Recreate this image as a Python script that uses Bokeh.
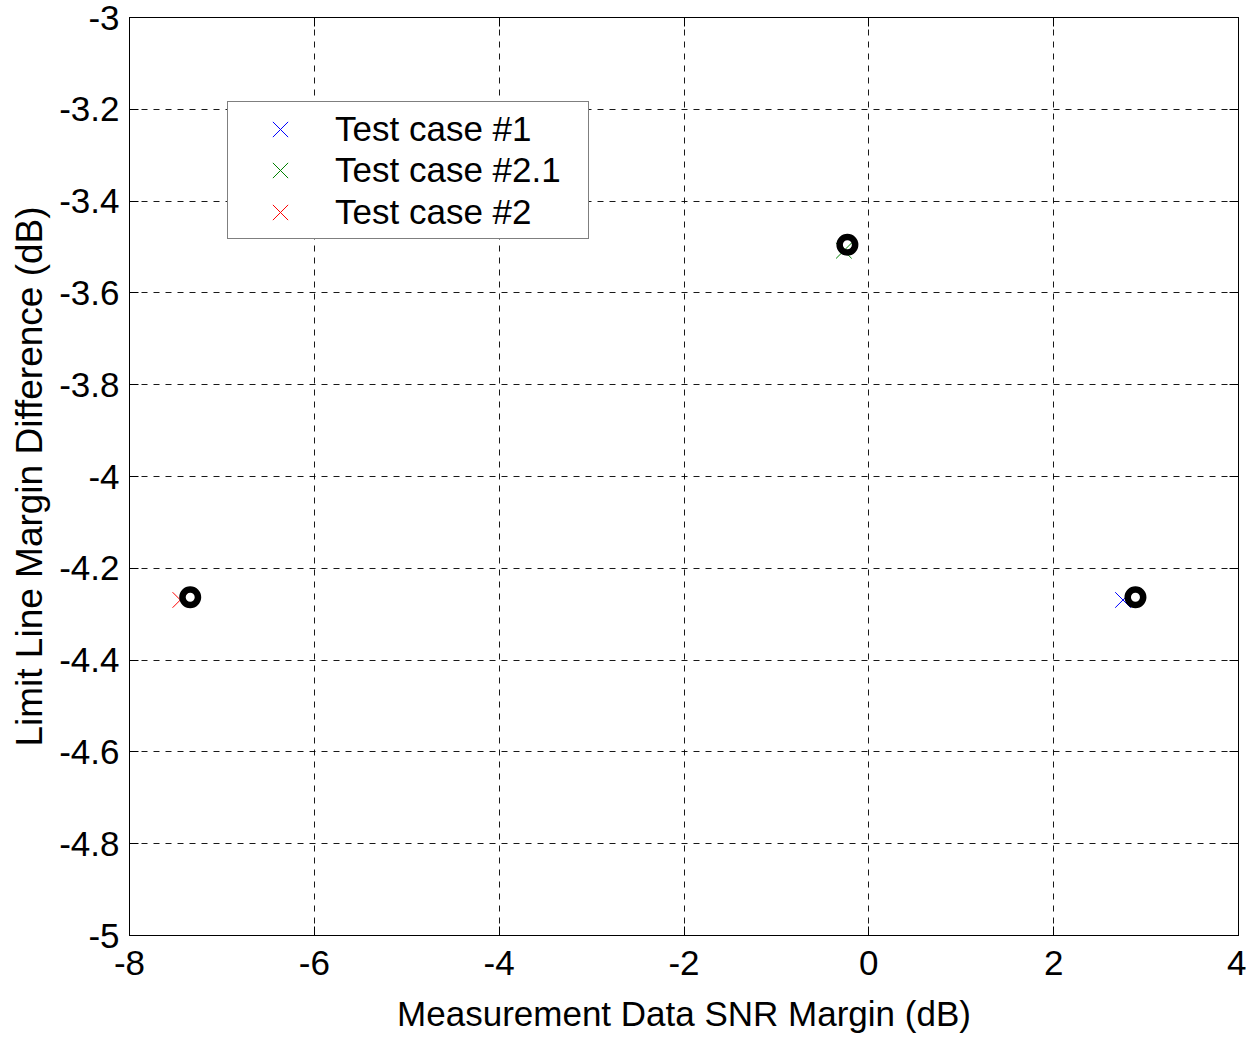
from bokeh.plotting import figure
from bokeh.models import Range1d, LinearAxis, FixedTicker, Legend, LegendItem
from bokeh.embed import file_html
from bokeh.resources import INLINE

# Data
tc1_x = [2.75]
tc1_y = [-4.269]
tc21_x = [-0.27]
tc21_y = [-3.508]
tc2_x = [-7.45]
tc2_y = [-4.269]
ref_x = [-7.343, -0.232, 2.885]
ref_y = [-4.263, -3.495, -4.263]

legend_labels = ["Test case #1", "Test case #2.1", "Test case #2"]
x_ticks = [-8, -6, -4, -2, 0, 2, 4]
y_ticks = [-5, -4.8, -4.6, -4.4, -4.2, -4, -3.8, -3.6, -3.4, -3.2, -3]

FONT = "Liberation Sans"
FS = "35px"

p = figure(width=1246, height=1035, output_backend="svg", toolbar_location=None,
           x_range=Range1d(-8, 4), y_range=Range1d(-5, -3),
           min_border_left=129, min_border_top=17, min_border_right=8, min_border_bottom=100)

p.background_fill_color = "white"
p.border_fill_color = "white"
p.outline_line_color = "black"
p.outline_line_width = 1

for ax in (p.xaxis[0], p.yaxis[0]):
    ax.axis_line_color = "black"
    ax.major_tick_line_color = "black"
    ax.major_tick_in = 9
    ax.major_tick_out = 0
    ax.minor_tick_line_color = None
    ax.major_label_text_font = FONT
    ax.major_label_text_font_size = FS
    ax.major_label_text_color = "black"
    ax.axis_label_text_font = FONT
    ax.axis_label_text_font_size = FS
    ax.axis_label_text_font_style = "normal"
    ax.axis_label_text_color = "black"

p.yaxis.axis_label_text_font_size = "37px"
p.xaxis.ticker = FixedTicker(ticks=x_ticks)
p.yaxis.ticker = FixedTicker(ticks=y_ticks)
p.xaxis.major_label_overrides = {v: ("%g" % v) for v in x_ticks}
p.yaxis.major_label_overrides = {v: ("%g" % v) for v in y_ticks}
p.xaxis.axis_label = "Measurement Data SNR Margin (dB)"
p.yaxis.axis_label = "Limit Line Margin Difference (dB)"
p.xaxis.major_label_standoff = 15
p.yaxis.major_label_standoff = 10
p.xaxis.axis_label_standoff = 16
p.yaxis.axis_label_standoff = 6

# mirrored ticks on top and right
top = LinearAxis(ticker=FixedTicker(ticks=x_ticks),
                 major_label_overrides={v: "" for v in x_ticks},
                 major_label_standoff=0, major_tick_in=9, major_tick_out=0,
                 minor_tick_line_color=None, axis_line_color="black")
right = LinearAxis(ticker=FixedTicker(ticks=y_ticks),
                   major_label_overrides={v: "" for v in y_ticks},
                   major_label_standoff=0, major_tick_in=9, major_tick_out=0,
                   minor_tick_line_color=None, axis_line_color="black")
p.add_layout(top, "above")
p.add_layout(right, "right")

p.xgrid.ticker = FixedTicker(ticks=x_ticks)
p.ygrid.ticker = FixedTicker(ticks=y_ticks)
for g in (p.xgrid[0], p.ygrid[0]):
    g.grid_line_color = "black"
    g.grid_line_dash = "6 6"
    g.grid_line_width = 1
    g.grid_line_alpha = 0.9

r1 = p.scatter(tc1_x, tc1_y, marker="x", size=22, line_color="blue", line_width=1)
r2 = p.scatter(tc21_x, tc21_y, marker="x", size=22, line_color="green", line_width=1)
r3 = p.scatter(tc2_x, tc2_y, marker="x", size=22, line_color="red", line_width=1)
p.scatter(ref_x, ref_y, marker="circle", size=15.5, line_color="black", line_width=6.5,
          fill_color=None)

# invisible proxy renderer used only to draw the legend frame
proxy = p.scatter([], [], marker="circle", size=1, line_alpha=0, fill_alpha=0)


def style_legend(lg, gh, lh):
    lg.label_text_font = FONT
    lg.label_text_font_size = FS
    lg.label_text_color = "black"
    lg.glyph_width = 106
    lg.glyph_height = gh
    lg.label_height = lh
    lg.label_width = 252
    lg.label_standoff = 2
    lg.spacing = 0
    lg.padding = 0
    lg.margin = 0


frame_legend = Legend(items=[LegendItem(label=" ", renderers=[proxy])], location=(98, 696))
style_legend(frame_legend, 136, 136)
frame_legend.border_line_color = "black"
frame_legend.border_line_width = 1
frame_legend.background_fill_color = "white"
frame_legend.background_fill_alpha = 1
p.add_layout(frame_legend, "center")

row_bottoms = [779, 738, 696]
for lab, r, yb in zip(legend_labels, [r1, r2, r3], row_bottoms):
    lg = Legend(items=[LegendItem(label=lab, renderers=[r])], location=(98, yb))
    style_legend(lg, 54, 36)
    lg.border_line_color = None
    lg.background_fill_alpha = 0
    p.add_layout(lg, "center")

open("out.html", "w").write(file_html(p, INLINE))
